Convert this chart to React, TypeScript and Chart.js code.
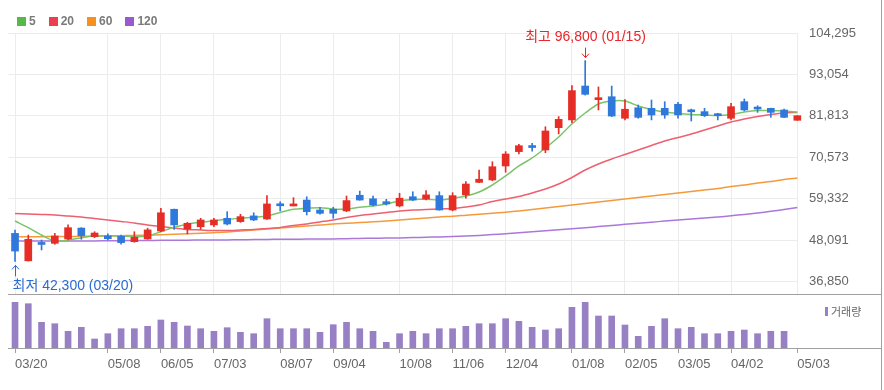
import React, { useEffect, useRef } from 'react';
import { Chart, registerables } from 'chart.js';

Chart.register(...registerables);

// ---------- data ----------
const DATES = [
  '03/20', '03/27', '04/03', '04/10', '04/17', '04/24', '05/01', '05/08', '05/15', '05/22',
  '05/29', '06/05', '06/12', '06/19', '06/26', '07/03', '07/10', '07/17', '07/24', '07/31',
  '08/07', '08/14', '08/21', '08/28', '09/04', '09/11', '09/18', '09/25', '10/02', '10/08',
  '10/16', '10/23', '10/30', '11/06', '11/13', '11/20', '11/27', '12/04', '12/11', '12/18',
  '12/26', '01/02', '01/08', '01/15', '01/22', '01/29', '02/05', '02/13', '02/19', '02/26',
  '03/05', '03/11', '03/18', '03/25', '04/02', '04/08', '04/15', '04/22', '04/29', '05/03',
];
const TICK_INDEX = [0, 7, 11, 15, 20, 24, 29, 33, 37, 42, 46, 50, 54, 59];

const OPEN = [
  49900, 42450, 47000, 47200, 48400, 51350, 49000, 49200, 49100, 47650,
  48400, 50550, 56450, 51100, 51700, 52200, 54000, 53100, 54650, 53800,
  57600, 57350, 58950, 56250, 56450, 56000, 60250, 59300, 58500, 57350,
  59850, 59250, 60150, 56250, 60350, 63750, 64400, 68200, 72100, 73400,
  72550, 78600, 80700, 89900, 86200, 87000, 81150, 84000, 83850, 83850,
  84950, 83050, 82950, 81950, 81150, 85650, 83800, 83850, 83400, 80600,
];
const HIGH = [
  50800, 49450, 48100, 49900, 52200, 51450, 50350, 49750, 49450, 50350,
  51300, 56700, 56500, 52900, 54000, 54000, 55800, 55100, 55500, 60150,
  58500, 59600, 59850, 57000, 57000, 60050, 61400, 60050, 59150, 60800,
  61200, 61500, 61200, 60950, 63950, 67100, 69350, 72100, 74100, 74350,
  78850, 81600, 90000, 96800, 89650, 89900, 86250, 84750, 86100, 85650,
  85500, 83650, 83850, 82500, 85200, 86400, 84550, 83900, 83650, 81850,
];
const LOW = [
  42300, 42400, 45400, 46950, 48100, 48300, 48750, 48100, 46950, 47500,
  48300, 50350, 51000, 49750, 51000, 51700, 52200, 52900, 53350, 53700,
  56000, 57350, 54900, 55150, 54000, 55800, 58900, 57350, 57600, 57100,
  58800, 59000, 56200, 56000, 59450, 63700, 64200, 66500, 71450, 72250,
  71800, 76900, 79950, 87450, 83400, 81600, 80700, 81150, 80700, 81150,
  81150, 80400, 81600, 80700, 80700, 83150, 82750, 81400, 81300, 80600,
];
const CLOSE = [
  45100, 48300, 46900, 49200, 51450, 49300, 50000, 48450, 47400, 48850,
  50850, 55500, 52200, 52650, 53550, 53550, 52450, 54450, 53550, 57900,
  57400, 57900, 55800, 55350, 55350, 58800, 58950, 57600, 57900, 59450,
  58950, 60350, 56250, 60150, 63300, 64600, 68000, 71450, 73700, 73200,
  77700, 80850, 88650, 87650, 86400, 81750, 83600, 81400, 82050, 82050,
  82050, 82900, 81850, 81850, 84300, 83400, 83650, 82750, 81400, 81850,
];

const MA5 = [
  53270, 51450, 49470, 47840, 48120, 48740, 49200, 49280, 49200, 49010,
  49200, 50370, 51560, 52380, 52920, 53350, 53730, 54000, 54280, 54630,
  55580, 56450, 56720, 56880, 56530, 56530, 56990, 57340, 57890, 58700,
  59110, 59160, 58970, 59430, 60060, 61140, 63040, 65490, 68200, 70370,
  73080, 76070, 79600, 82580, 85030, 85840, 85840, 84480, 83530, 82850,
  82450, 82180, 82040, 81900, 82180, 82850, 83260, 83260, 83130, 82850,
];
const MA20 = [
  55310, 55170, 55040, 54900, 54630, 54360, 53950, 53540, 53140, 52730,
  52190, 51780, 51370, 50970, 50830, 50690, 50690, 50830, 50970, 51240,
  51510, 52050, 52460, 53000, 53540, 54220, 54760, 55170, 55580, 55990,
  56260, 56390, 56530, 56660, 57070, 57610, 58560, 59240, 59920, 60870,
  61960, 63310, 65080, 67110, 68740, 70100, 71320, 72540, 73760, 74980,
  75930, 76880, 77970, 79060, 80140, 80950, 81630, 82180, 82580, 82720,
];
const MA60 = [
  49020, 49020, 49020, 49050, 49080, 49100, 49160, 49200, 49260, 49340,
  49420, 49530, 49660, 49800, 49930, 50100, 50290, 50560, 50830, 51100,
  51370, 51640, 51920, 52190, 52460, 52650, 52860, 53050, 53270, 53540,
  53810, 54090, 54360, 54550, 54820, 55090, 55360, 55660, 55990, 56390,
  56800, 57210, 57610, 58020, 58430, 58840, 59240, 59650, 60060, 60460,
  60870, 61280, 61690, 62090, 62640, 63040, 63590, 63990, 64540, 64940,
];
const MA120 = [
  47840, 47840, 47840, 47840, 47840, 47840, 47870, 47900, 47930, 47950,
  47980, 48010, 48030, 48060, 48090, 48120, 48140, 48170, 48220, 48250,
  48310, 48330, 48360, 48390, 48410, 48470, 48520, 48580, 48630, 48680,
  48770, 48850, 48930, 49040, 49200, 49360, 49580, 49820, 50070, 50340,
  50610, 50880, 51150, 51450, 51750, 52050, 52350, 52650, 52950, 53240,
  53540, 53810, 54090, 54360, 54680, 55060, 55440, 55880, 56390, 56940,
];
const VOLUME = [
  4570, 4430, 2570, 2430, 1670, 2070, 900, 1430, 1930, 1930,
  2170, 2800, 2570, 2200, 1930, 1670, 2030, 1570, 1430, 2930,
  1930, 1930, 1930, 1570, 2330, 2570, 1930, 1670, 570, 1430,
  1670, 1430, 1930, 1930, 2170, 2430, 2430, 2930, 2670, 2070,
  1800, 1930, 4070, 4570, 3200, 3200, 2300, 1170, 2170, 2930,
  1930, 2070, 1430, 1430, 1670, 1800, 1430, 1670, 1670, null,
];

const PRICE_TICKS = [36850, 48091, 59332, 70573, 81813, 93054, 104295];
const PRICE_MIN = 33450;
const PRICE_MAX = 104295;
const VOLUME_MAX = 5000;
const X_MIN = -0.53;
const X_MAX = 59.05;

const MA_SERIES = [
  { label: '5', data: MA5, line: '#7cc46a', box: '#55b948' },
  { label: '20', data: MA20, line: '#ee5f6f', box: '#e8404c' },
  { label: '60', data: MA60, line: '#f59a3c', box: '#f7911e' },
  { label: '120', data: MA120, line: '#ab78d9', box: '#9b59d0' },
];

// ---------- styles ----------
const UP = '#e52e26';
const DOWN = '#2f78dc';
const VOL_COLOR = '#9880c4';
const GRID = '#ececec';
const AXIS_TEXT = '#666666';
const FRAME = '#a0a0a0';
const FONT = '"Liberation Sans", Arial, "Noto Sans CJK KR", sans-serif';
const KFONT = '"Liberation Sans", "Noto Sans CJK KR", sans-serif';

const fmt = (v: number) => Number(v).toLocaleString('en-US');
const idx = DATES.map((_, i) => i);
const candleColors = idx.map((i) => (CLOSE[i] >= OPEN[i] ? UP : DOWN));

const setTicks = (scale: any, values: number[]) => {
  scale.ticks = values.map((v) => ({ value: v }));
};

const extremesPlugin = {
  id: 'extremes',
  afterDatasetsDraw(chart: any) {
    const { ctx } = chart;
    const x = chart.scales.x;
    const y = chart.scales.y;
    const hiVal = Math.max(...HIGH);
    const loVal = Math.min(...LOW);
    const hi = HIGH.indexOf(hiVal);
    const lo = LOW.indexOf(loVal);
    ctx.save();
    ctx.lineWidth = 1;
    ctx.font = '14px ' + KFONT;
    ctx.textBaseline = 'middle';

    const hx = Math.round(x.getPixelForValue(hi)) + 0.5;
    const hy = y.getPixelForValue(hiVal);
    ctx.strokeStyle = '#e8262b';
    ctx.fillStyle = '#e8262b';
    ctx.beginPath();
    ctx.moveTo(hx, hy - 13);
    ctx.lineTo(hx, hy - 3);
    ctx.moveTo(hx - 3.5, hy - 7);
    ctx.lineTo(hx, hy - 3);
    ctx.lineTo(hx + 3.5, hy - 7);
    ctx.stroke();
    ctx.textAlign = 'center';
    ctx.fillText('최고 ' + fmt(hiVal) + ' (' + DATES[hi] + ')', hx, hy - 23);

    const lx = Math.round(x.getPixelForValue(lo)) + 0.5;
    const ly = y.getPixelForValue(loVal);
    ctx.strokeStyle = '#2a6bd0';
    ctx.fillStyle = '#2a6bd0';
    ctx.beginPath();
    ctx.moveTo(lx, ly + 15);
    ctx.lineTo(lx, ly + 4);
    ctx.moveTo(lx - 3.5, ly + 8);
    ctx.lineTo(lx, ly + 4);
    ctx.lineTo(lx + 3.5, ly + 8);
    ctx.stroke();
    ctx.textAlign = 'left';
    ctx.fillText('최저 ' + fmt(loVal) + ' (' + DATES[lo] + ')', lx - 3, ly + 25);
    ctx.restore();
  },
};

function priceConfig(): any {
  return {
    type: 'bar',
    data: {
      datasets: [
        {
          type: 'bar',
          label: 'wick',
          data: idx.map((i) => ({ x: i, y: [LOW[i], HIGH[i]] })),
          backgroundColor: candleColors,
          barThickness: 1,
          grouped: false,
          order: 0,
          clip: false,
        },
        {
          type: 'bar',
          label: 'body',
          data: idx.map((i) => ({ x: i, y: [OPEN[i], CLOSE[i]] })),
          backgroundColor: candleColors,
          barThickness: 7,
          minBarLength: 2,
          grouped: false,
          order: 0,
          clip: false,
        },
        ...MA_SERIES.map((s) => ({
          type: 'line',
          label: s.label,
          data: s.data.map((v, i) => ({ x: i, y: v })),
          borderColor: s.line,
          borderWidth: 1.5,
          pointRadius: 0,
          tension: 0.3,
          fill: false,
          order: 1,
        })),
      ],
    },
    options: {
      animation: false,
      responsive: false,
      events: [],
      layout: { padding: { left: 8, top: 33, right: 0, bottom: 1 } },
      plugins: { legend: { display: false }, tooltip: { enabled: false } },
      scales: {
        x: {
          type: 'linear',
          bounds: 'data',
          min: X_MIN,
          max: X_MAX,
          offset: false,
          afterBuildTicks: (s: any) => setTicks(s, TICK_INDEX),
          afterFit: (s: any) => {
            s.height = 0;
            s.paddingLeft = 0;
            s.paddingRight = 0;
          },
          ticks: { display: false },
          grid: { color: GRID, drawTicks: false, offset: false },
          border: { display: false },
        },
        y: {
          position: 'right',
          bounds: 'data',
          min: PRICE_MIN,
          max: PRICE_MAX,
          afterBuildTicks: (s: any) => setTicks(s, PRICE_TICKS),
          afterFit: (s: any) => {
            s.width = 86;
            s.paddingTop = 0;
            s.paddingBottom = 0;
          },
          ticks: {
            padding: 11,
            color: AXIS_TEXT,
            font: { family: FONT, size: 13 },
            callback: (v: number) => fmt(v),
          },
          grid: { color: GRID, drawTicks: false, offset: false },
          border: { display: false },
        },
      },
    },
    plugins: [extremesPlugin],
  };
}

function volumeConfig(): any {
  return {
    type: 'bar',
    data: {
      datasets: [
        {
          label: '거래량',
          data: idx.map((i) => ({ x: i, y: VOLUME[i] })),
          backgroundColor: VOL_COLOR,
          barThickness: 6,
        },
      ],
    },
    options: {
      animation: false,
      responsive: false,
      events: [],
      layout: { padding: { left: 8, top: 2, right: 86, bottom: 0 } },
      plugins: { legend: { display: false }, tooltip: { enabled: false } },
      scales: {
        x: {
          type: 'linear',
          bounds: 'data',
          min: X_MIN,
          max: X_MAX,
          offset: false,
          afterBuildTicks: (s: any) => setTicks(s, TICK_INDEX),
          afterFit: (s: any) => {
            s.height = 42;
            s.paddingLeft = 0;
            s.paddingRight = 0;
          },
          ticks: {
            padding: 4,
            align: 'start',
            autoSkip: false,
            maxRotation: 0,
            minRotation: 0,
            color: AXIS_TEXT,
            font: { family: FONT, size: 13 },
            callback: (v: number) => DATES[v],
          },
          grid: { drawOnChartArea: false, drawTicks: true, tickLength: 5, color: FRAME, offset: false },
          border: { display: false },
        },
        y: { display: false, bounds: 'data', min: 0, max: VOLUME_MAX },
      },
    },
  };
}

export default function App() {
  const priceRef = useRef<HTMLCanvasElement>(null);
  const volRef = useRef<HTMLCanvasElement>(null);

  useEffect(() => {
    const price = new Chart(priceRef.current as HTMLCanvasElement, priceConfig());
    const vol = new Chart(volRef.current as HTMLCanvasElement, volumeConfig());
    return () => {
      price.destroy();
      vol.destroy();
    };
  }, []);

  return (
    <div
      style={{
        position: 'fixed',
        left: 0,
        top: 0,
        width: 884,
        height: 390,
        background: '#ffffff',
        overflow: 'hidden',
      }}
    >
      <canvas ref={priceRef} width={884} height={295} style={{ position: 'absolute', left: 0, top: 0 }} />
      <canvas ref={volRef} width={884} height={94} style={{ position: 'absolute', left: 0, top: 296 }} />

      <div
        style={{
          position: 'absolute',
          left: 17,
          top: 14,
          display: 'flex',
          alignItems: 'center',
          height: 14,
          fontFamily: FONT,
          fontWeight: 'bold',
          fontSize: 12,
          color: '#7a7a7a',
        }}
      >
        {MA_SERIES.map((s) => (
          <div key={s.label} style={{ display: 'flex', alignItems: 'center', marginRight: 13 }}>
            <span style={{ display: 'inline-block', width: 9, height: 9, background: s.box, marginRight: 3 }} />
            <span>{s.label}</span>
          </div>
        ))}
      </div>

      <div
        style={{
          position: 'absolute',
          left: 825,
          top: 304,
          display: 'flex',
          alignItems: 'center',
          height: 14,
          fontFamily: KFONT,
          fontSize: 11,
          color: AXIS_TEXT,
        }}
      >
        <span style={{ display: 'inline-block', width: 3, height: 9, background: VOL_COLOR, marginRight: 3 }} />
        <span>거래량</span>
      </div>

      <div style={{ position: 'absolute', left: 8, top: 294, width: 873, height: 1, background: FRAME }} />
      <div style={{ position: 'absolute', left: 8, top: 348, width: 873, height: 1, background: FRAME }} />
      <div style={{ position: 'absolute', left: 881, top: 0, width: 1, height: 390, background: FRAME }} />
    </div>
  );
}
